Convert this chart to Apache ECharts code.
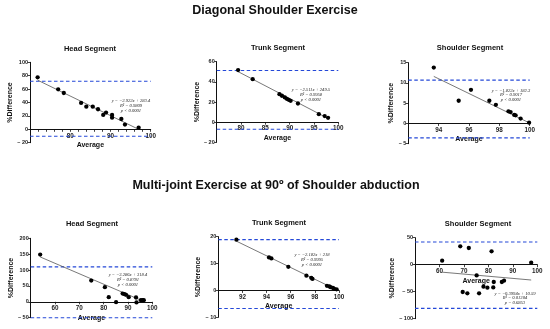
<!DOCTYPE html>
<html><head><meta charset="utf-8">
<script src="https://cdn.jsdelivr.net/npm/echarts@6/dist/echarts.min.js"></script>
<style>html,body{margin:0;padding:0;background:#fff}#c{width:550px;height:329px}</style>
</head><body><div id="c"></div>
<script>
// ---- data ----
const mainTitles = ['Diagonal Shoulder Exercise', 'Multi-joint Exercise at 90º of Shoulder abduction'];
const panelTitles = ['Head Segment', 'Trunk Segment', 'Shoulder Segment', 'Head Segment', 'Trunk Segment', 'Shoulder Segment'];

const headDiagX = [71.9, 77.0, 78.4, 82.7, 84.0, 85.6, 86.9, 88.2, 88.9, 90.4, 90.4, 92.7, 93.6, 97.0];
const headDiagY = [77.6, 59.7, 54.2, 39.3, 33.8, 33.8, 29.9, 21.4, 24.9, 21.4, 17.4, 15.4, 7.0, 2.5];
const trunkDiagX = [79.4, 82.4, 87.9, 88.4, 89.0, 89.4, 89.8, 90.2, 91.7, 96.0, 97.2, 97.9];
const trunkDiagY = [51.7, 42.7, 27.8, 26.2, 24.5, 23.2, 22.2, 21.2, 18.5, 7.9, 6.0, 4.3];
const shoulderDiagX = [93.68, 95.32, 96.13, 97.34, 97.77, 98.6, 98.74, 98.98, 99.07, 99.4, 99.96];
const shoulderDiagY = [13.8, 5.6, 8.3, 5.6, 4.6, 3.0, 2.8, 2.1, 2.0, 1.2, 0.2];
const headMultiX = [53.9, 74.9, 80.5, 82.1, 85.1, 87.8, 88.6, 89.2, 90.3, 93.3, 93.5, 95.3, 96.0, 96.5];
const headMultiY = [148.7, 67, 46, 14.7, -1, 26, 24, 22, 14.7, 13.6, -2, 5.2, 5.2, 5.2];
const trunkMultiX = [91.5, 94.2, 94.4, 95.8, 97.3, 97.7, 97.8, 99.0, 99.2, 99.3, 99.5, 99.6, 99.8];
const trunkMultiY = [18.9, 12.3, 11.9, 8.8, 5.5, 4.7, 4.3, 1.7, 1.5, 1.2, 0.9, 0.6, 0.4];
const shoulderMultiX = [61.1, 68.5, 72.0, 81.3, 97.5, 75.2, 69.5, 71.4, 76.2, 78.0, 79.6, 82.0, 82.2, 85.5, 86.4];
const shoulderMultiY = [7.4, 34, 30.9, 24.7, 3.7, -19.8, -50.6, -53, -53, -40.7, -42.6, -42, -32, -32, -29.6];

const slopes = [-2.922, -2.511, -1.822, -3.286, -2.182, -0.3994];
const intercepts = [283.4, 249.5, 182.3, 318.4, 218, 10.59];
const r2Values = ['0.9809', '0.9958', '0.9017', '0.8781', '0.9995', '0.01304'];
const pValues = ['p < 0.0001', 'p < 0.0001', 'p < 0.0001', 'p < 0.0001', 'p < 0.0001', 'p = 0.6853'];
const upperLoA = [71.7, 51.3, 10.7, 110, 18.9, 42];
const lowerLoA = [-10.4, -7.0, -3.55, -50, -6.7, -80.9];

const xMins = [70, 75, 92, 50, 90, 50];
const xMaxs = [100, 100, 100, 100, 100, 100];
const xSteps = [10, 5, 2, 10, 2, 10];
const yMins = [-20, -20, -5, -50, -10, -100];
const yMaxs = [100, 60, 15, 200, 20, 50];
const ySteps = [20, 20, 5, 50, 10, 50];

const xs = [headDiagX, trunkDiagX, shoulderDiagX, headMultiX, trunkMultiX, shoulderMultiX];
const ys = [headDiagY, trunkDiagY, shoulderDiagY, headMultiY, trunkMultiY, shoulderMultiY];

// ---- layout ----
const grids = [
  {left: 30, top: 62.3, width: 120.7, height: 80.4},
  {left: 216.7, top: 61.7, width: 121.6, height: 80.6},
  {left: 408.3, top: 62.7, width: 121.4, height: 81},
  {left: 30.7, top: 238.3, width: 121.6, height: 79.4},
  {left: 218.3, top: 236.7, width: 120.7, height: 80.6},
  {left: 415, top: 237.7, width: 122.3, height: 81}
];
const yNameGaps = [15, 13.5, 11.5, 15.5, 14.5, 16.5];
const titlePos = [[90, 49], [278, 48.3], [470, 48.3], [92, 224.3], [279, 223], [478, 224]];
const eqPos = [[131, 98.5], [311, 87.5], [511, 88], [128, 272.5], [312, 252.5], [515, 291]];

const fmtNeg = v => v < 0 ? '\u2013 ' + Math.abs(v) : String(v);
const AX = '#111';
const BLUE = '#2448d8';
const options = {grid: [], xAxis: [], yAxis: [], series: [], graphic: []};

for (let i = 0; i < 6; i++) {
  options.grid.push(Object.assign({containLabel: false}, grids[i]));
  // shift the x axis up so it crosses the y axis at zero
  const zeroOffset = -grids[i].height * (0 - yMins[i]) / (yMaxs[i] - yMins[i]);
  options.xAxis.push({
    type: 'value', gridIndex: i, min: xMins[i], max: xMaxs[i], interval: xSteps[i],
    position: 'bottom', offset: zeroOffset,
    name: 'Average', nameLocation: 'middle', nameGap: 12.5,
    nameTextStyle: {fontFamily: 'Liberation Sans', fontWeight: 'bold', fontSize: 7, color: AX},
    axisLine: {show: true, onZero: false, lineStyle: {color: AX, width: 1}},
    axisTick: {show: true, length: 2.5, lineStyle: {color: AX, width: 0.8}},
    minorTick: {show: i === 0, splitNumber: 5, length: 2.5, lineStyle: {color: AX, width: 0.8}},
    axisLabel: {showMinLabel: false, fontFamily: 'Liberation Sans', fontWeight: 'bold', fontSize: 6.3, color: '#222', margin: 3.5, formatter: fmtNeg},
    splitLine: {show: false}
  });
  options.yAxis.push({
    type: 'value', gridIndex: i, min: yMins[i], max: yMaxs[i], interval: ySteps[i],
    name: '%Difference', nameLocation: 'middle', nameGap: yNameGaps[i],
    nameTextStyle: {fontFamily: 'Liberation Sans', fontWeight: 'bold', fontSize: 7, color: AX},
    axisLine: {show: true, onZero: false, lineStyle: {color: AX, width: 1}},
    axisTick: {show: true, length: 2.5, lineStyle: {color: AX, width: 0.8}},
    axisLabel: {fontFamily: 'Liberation Sans', fontWeight: 'bold', fontSize: 5.5, color: '#222', margin: 2, formatter: fmtNeg},
    splitLine: {show: false}
  });
  const pts = xs[i].map((x, k) => [x, ys[i][k]]);
  const x0 = Math.min(...xs[i]), x1 = Math.max(...xs[i]);
  [upperLoA[i], lowerLoA[i]].forEach(v => {
    options.series.push({
      type: 'line', xAxisIndex: i, yAxisIndex: i, symbol: 'none', silent: true, clip: false,
      data: [[xMins[i], v], [xMaxs[i], v]],
      lineStyle: {color: BLUE, width: 1.1, type: [3.5, 2.5], opacity: 1}, z: 1
    });
  });
  options.series.push({
    type: 'line', xAxisIndex: i, yAxisIndex: i, symbol: 'none', silent: true,
    data: [[x0, slopes[i] * x0 + intercepts[i]], [x1, slopes[i] * x1 + intercepts[i]]],
    lineStyle: {color: '#555', width: 0.8}, z: 2
  });
  options.series.push({
    type: 'scatter', xAxisIndex: i, yAxisIndex: i, data: pts, symbolSize: 4.3,
    itemStyle: {color: '#000', opacity: 1}, z: 3
  });
  options.graphic.push({
    type: 'text', x: titlePos[i][0], y: titlePos[i][1],
    style: {text: panelTitles[i], fontFamily: 'Liberation Sans', fontWeight: 'bold', fontSize: 7.5, fill: '#111', align: 'center', verticalAlign: 'middle'}
  });
  const sgn = intercepts[i] >= 0 ? ' + ' : ' \u2212 ';
  const eq = 'y = \u2212' + Math.abs(slopes[i]) + 'x' + sgn + Math.abs(intercepts[i]) + '\nR\u00B2 = ' + r2Values[i] + '\n' + pValues[i];
  options.graphic.push({
    type: 'text', x: eqPos[i][0], y: eqPos[i][1],
    style: {text: eq, fontFamily: 'Liberation Serif', fontStyle: 'italic', fontSize: 4.6, lineHeight: 4.8, fill: '#222', align: 'center', verticalAlign: 'top'}
  });
}
options.graphic.push({
  type: 'text', x: 275, y: 11,
  style: {text: mainTitles[0], fontFamily: 'Liberation Sans', fontWeight: 'bold', fontSize: 12.5, fill: '#111', align: 'center', verticalAlign: 'middle'}
});
options.graphic.push({
  type: 'text', x: 276, y: 186,
  style: {text: mainTitles[1], fontFamily: 'Liberation Sans', fontWeight: 'bold', fontSize: 12.5, fill: '#111', align: 'center', verticalAlign: 'middle'}
});
options.animation = false;
const chart = echarts.init(document.getElementById('c'), null, {renderer: 'canvas'});
chart.setOption(options);
</script></body></html>
